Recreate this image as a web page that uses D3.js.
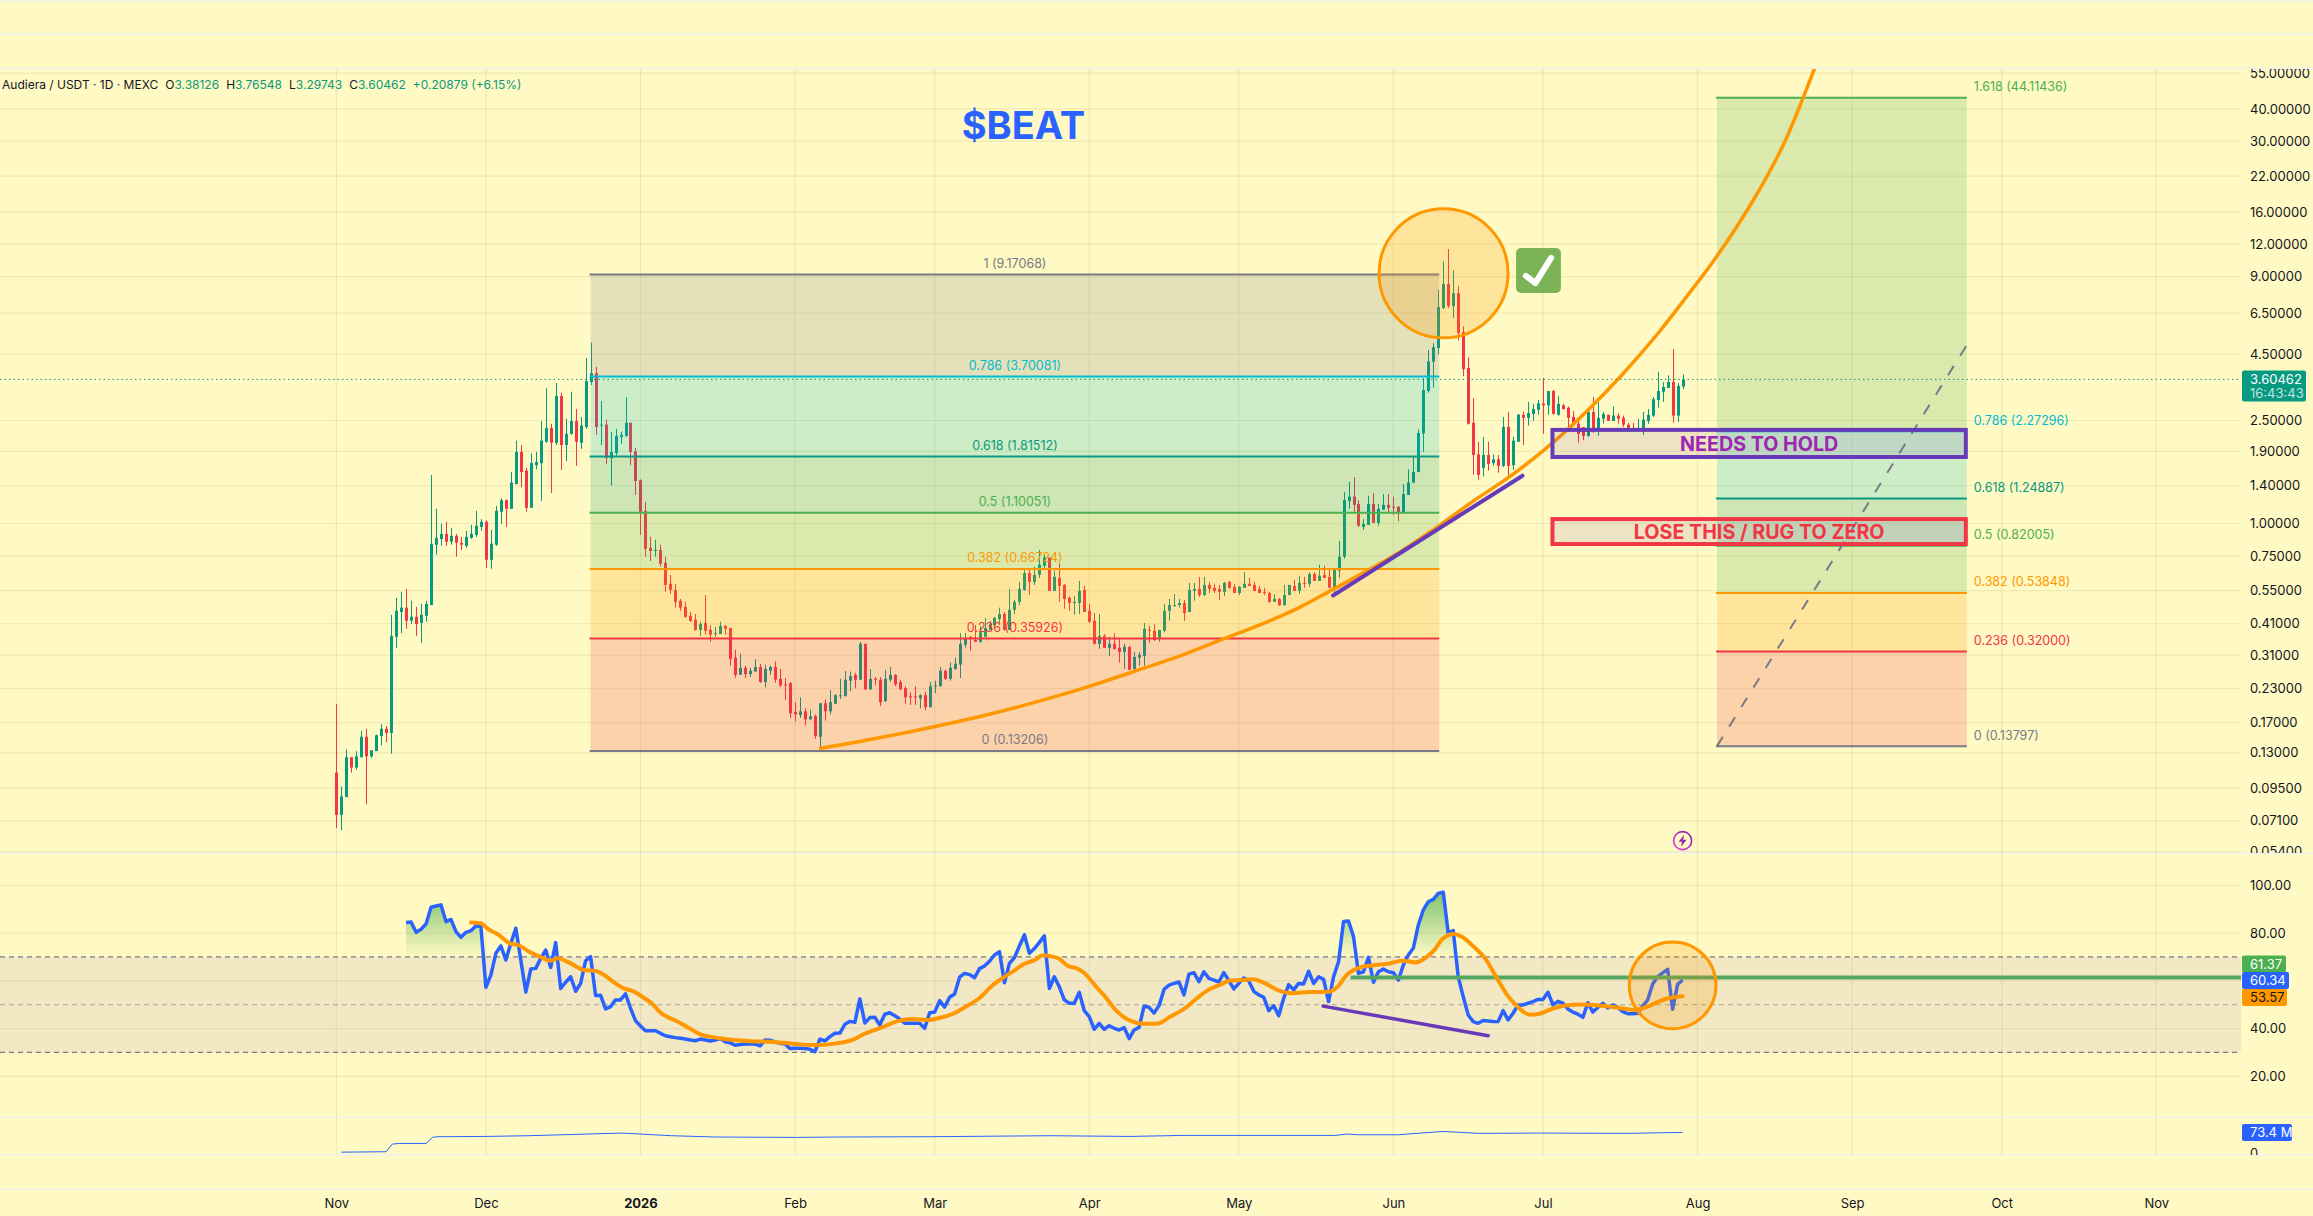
<!DOCTYPE html>
<html>
<head>
<meta charset="utf-8">
<title>Audiera / USDT</title>
<script src="https://cdn.jsdelivr.net/npm/d3@7/dist/d3.min.js"></script>
<style>
  html, body { margin: 0; padding: 0; background: #fff9c4; }
  svg { display: block; font-family: Inter, "Noto Sans", sans-serif; }
  .axis path { display: none; }
  .axis text { fill: #131722; font-size: 13px; font-family: Inter, "Noto Sans", sans-serif; }
</style>
</head>
<body>
<svg id="chart" width="2313" height="1216"></svg>
<script>
// Daily candles, first session 2025-11-01
const firstDay = Date.UTC(2025, 10, 1);
const opens = [
.109,.0748,.0877,.125,.114,.125,.150,.126,.132,.151,
.161,.155,.365,.455,.473,.421,.436,.413,.440,.484,
.828,.872,.912,.850,.896,.842,.820,.880,.904,.970,
1.015,.724,.828,1.11,1.23,1.14,1.42,1.89,1.60,1.15,
1.68,1.71,2.07,2.34,2.05,3.11,2.01,2.22,2.49,2.05,
2.36,3.52,3.81,2.39,2.41,1.79,1.87,2.16,2.18,2.45,
1.90,1.47,1.12,.805,.783,.791,.705,.585,.554,.503,
.476,.440,.425,.388,.413,.388,.374,.374,.402,.395,
.303,.260,.277,.262,.268,.279,.244,.270,.279,.251,
.239,.242,.187,.182,.188,.175,.180,.150,.202,.188,
.201,.215,.215,.247,.260,.249,.343,.229,.251,.249,
.206,.249,.260,.244,.231,.215,.215,.211,.217,.195,
.235,.235,.270,.251,.274,.285,.340,.365,.355,.349,
.365,.388,.405,.428,.447,.388,.464,.498,.554,.643,
.595,.633,.687,.738,.549,.616,.579,.516,.493,.493,
.554,.460,.421,.343,.368,.331,.343,.331,.319,.333,
.274,.303,.308,.388,.385,.362,.385,.460,.480,.484,
.493,.455,.549,.559,.529,.579,.564,.559,.544,.595,
.569,.539,.564,.585,.579,.559,.544,.539,.498,.511,
.484,.529,.574,.549,.590,.585,.638,.600,.633,.622,
.564,.657,.744,1.22,1.27,1.19,.970,.988,1.19,1.005,
1.13,1.18,1.16,1.16,1.10,1.29,1.44,1.58,2.23,3.25,
4.22,4.77,6.80,8.42,6.92,7.76,5.50,3.99,2.45,1.85,
1.64,1.84,1.71,1.77,1.67,2.36,1.68,2.07,2.63,2.56,
2.65,2.75,2.91,2.86,3.25,2.63,2.86,2.80,2.58,2.43,
2.36,2.18,2.70,2.30,2.54,2.63,2.49,2.61,2.56,2.41,
2.34,2.32,2.30,2.49,2.61,3.00,3.23,3.34,3.52,2.61,
3.38126];
const highs = [
.201,.0965,.134,.125,.132,.158,.161,.133,.153,.168,
.165,.444,.516,.544,.559,.503,.476,.489,.503,1.54,
1.14,.997,1.015,.962,.912,.888,.937,.988,1.12,1.04,
1.03,.945,1.17,1.25,1.24,1.58,2.09,2.01,1.64,1.87,
1.89,2.49,3.34,2.43,3.49,3.20,2.54,3.23,2.77,2.58,
4.36,5.00,4.03,2.97,2.52,2.26,2.32,2.26,3.08,2.45,
1.96,1.48,1.21,.888,.865,.828,.744,.633,.585,.511,
.498,.455,.447,.417,.529,.405,.399,.417,.405,.395,
.325,.314,.282,.277,.299,.287,.285,.282,.293,.274,
.253,.244,.204,.213,.193,.191,.183,.202,.209,.227,
.219,.251,.269,.268,.265,.349,.343,.274,.255,.255,
.272,.279,.262,.249,.235,.223,.235,.219,.223,.244,
.247,.279,.272,.290,.303,.377,.377,.368,.405,.402,
.432,.421,.436,.473,.455,.559,.507,.595,.662,.662,
.681,.791,.757,.738,.657,.699,.585,.524,.524,.600,
.574,.489,.451,.447,.374,.365,.377,.358,.343,.337,
.319,.319,.413,.402,.409,.388,.489,.511,.534,.511,
.507,.590,.590,.622,.622,.595,.585,.579,.595,.600,
.585,.574,.648,.616,.595,.574,.564,.544,.534,.516,
.579,.579,.605,.628,.622,.648,.648,.693,.687,.662,
.662,.857,1.32,1.45,1.51,1.23,1.04,1.28,1.31,1.19,
1.30,1.30,1.27,1.17,1.42,1.62,1.81,2.31,3.64,4.68,
4.97,7.98,10.3,11.5,9.53,8.26,5.79,4.39,3.05,2.07,
2.16,2.07,1.85,1.84,2.58,2.70,2.16,2.65,2.70,2.95,
2.90,3.00,3.65,3.25,3.28,3.11,2.90,2.83,2.72,2.56,
2.36,2.72,3.08,2.95,2.70,2.63,2.84,2.67,2.61,2.45,
2.45,2.54,2.70,2.77,3.08,3.86,3.52,3.74,4.72,3.49,
3.76548];
const lows = [
.0665,.0653,.0877,.109,.112,.125,.0822,.124,.132,.139,
.143,.129,.331,.377,.392,.409,.368,.346,.417,.484,
.757,.820,.820,.828,.744,.791,.805,.872,.888,.937,
.674,.668,.820,.997,.970,1.14,1.42,1.38,1.11,1.15,
1.62,1.22,2.05,1.31,2.01,1.61,1.74,2.20,1.67,1.94,
2.32,3.43,2.20,2.01,1.70,1.40,1.83,2.03,2.16,1.68,
1.29,.904,.744,.717,.744,.681,.544,.534,.473,.460,
.432,.417,.385,.368,.372,.349,.365,.374,.372,.282,
.253,.260,.253,.255,.268,.242,.233,.260,.242,.233,
.208,.177,.172,.177,.166,.175,.147,.1315,.173,.183,
.201,.210,.215,.225,.231,.249,.227,.227,.237,.197,
.204,.244,.235,.227,.201,.199,.199,.193,.190,.195,
.221,.235,.249,.247,.272,.253,.331,.322,.349,.346,
.365,.388,.399,.405,.385,.388,.447,.484,.549,.529,
.579,.616,.662,.549,.549,.498,.468,.460,.444,.447,
.455,.413,.340,.328,.331,.308,.325,.290,.274,.272,
.265,.282,.282,.346,.352,.349,.380,.421,.476,.473,
.421,.455,.503,.520,.524,.539,.539,.507,.524,.559,
.539,.529,.564,.574,.549,.539,.529,.493,.498,.480,
.480,.529,.549,.534,.564,.569,.600,.600,.616,.564,
.539,.616,.731,1.14,1.11,.970,.945,.988,1.005,.980,
1.13,1.10,1.08,1.02,1.09,1.29,1.43,1.58,1.89,3.20,
3.35,4.50,6.73,6.80,6.22,5.09,3.71,2.41,1.54,1.47,
1.52,1.60,1.67,1.57,1.65,1.50,1.61,2.07,2.01,2.39,
2.49,2.63,2.22,2.63,2.63,2.61,2.75,2.36,2.37,2.05,
2.10,2.16,2.24,2.18,2.43,2.49,2.49,2.43,2.36,2.30,
2.30,2.30,2.20,2.43,2.58,2.80,2.95,3.34,2.45,2.47,
3.29743];
const closes = [
.0748,.0882,.125,.114,.126,.150,.126,.133,.152,.161,
.155,.368,.460,.473,.421,.436,.409,.444,.489,.835,
.880,.912,.850,.896,.842,.828,.888,.912,.980,1.015,
.724,.835,1.12,1.23,1.14,1.44,1.89,1.58,1.15,1.71,
1.73,2.09,2.34,2.05,3.11,2.01,2.22,2.49,2.07,2.39,
3.55,3.81,2.36,2.41,1.79,1.89,2.18,2.20,2.45,1.89,
1.46,1.11,.798,.783,.791,.699,.579,.554,.498,.473,
.436,.421,.388,.409,.385,.372,.377,.402,.392,.300,
.260,.277,.262,.270,.279,.244,.274,.279,.249,.237,
.237,.185,.183,.188,.175,.180,.151,.202,.188,.204,
.217,.217,.249,.257,.249,.343,.229,.251,.249,.204,
.251,.260,.239,.229,.213,.213,.213,.217,.195,.235,
.237,.270,.251,.277,.287,.343,.362,.362,.349,.380,
.395,.409,.432,.447,.388,.464,.498,.559,.643,.595,
.633,.693,.738,.549,.622,.574,.511,.493,.498,.549,
.455,.417,.343,.368,.331,.343,.328,.319,.334,.272,
.305,.311,.392,.385,.355,.388,.460,.484,.484,.493,
.451,.554,.559,.529,.579,.559,.549,.544,.590,.564,
.539,.569,.585,.574,.549,.539,.539,.498,.511,.484,
.529,.579,.549,.590,.585,.638,.600,.628,.616,.564,
.662,.744,1.23,1.27,1.18,.980,.997,1.19,1.005,1.14,
1.18,1.15,1.15,1.10,1.30,1.44,1.58,2.24,3.28,4.23,
4.80,6.86,8.42,6.92,7.76,5.44,3.95,2.43,1.84,1.54,
1.84,1.70,1.77,1.67,2.36,1.67,2.09,2.63,2.56,2.67,
2.77,2.91,2.86,3.25,2.65,2.90,2.77,2.56,2.45,2.22,
2.18,2.70,2.30,2.56,2.65,2.49,2.61,2.54,2.41,2.34,
2.33,2.34,2.52,2.63,3.02,3.25,3.37,3.52,2.61,3.40,
3.60462];

// RSI(14), one value per session from session 14 onward
const rsiFirstSession = 14;
const rsiValues = [
84.4,84.6,80.3,81.6,83.8,90.8,91.3,91.8,84.8,85.7,
80.6,78.2,80.3,81.0,83.0,82.7,57.3,62.4,71.5,74.6,
68.7,75.7,82.0,68.7,55.3,64.9,65.2,69.4,72.9,65.6,
76.0,56.8,59.4,61.7,55.6,58.9,68.4,70.1,53.8,53.9,
48.2,49.2,52.0,52.0,54.5,48.5,43.3,41.1,39.1,39.1,
39.1,38.0,37.0,36.6,36.2,35.9,35.6,35.2,34.9,35.6,
35.2,34.8,35.2,35.9,34.5,34.0,33.0,33.3,33.5,33.5,
33.5,32.8,35.2,35.1,34.4,33.8,33.5,31.6,31.7,31.7,
31.6,31.3,30.3,35.6,34.8,36.6,38.0,38.1,41.8,43.0,
42.6,52.4,42.3,44.6,44.7,41.5,46.0,46.6,45.4,44.0,
42.2,42.2,42.2,42.2,40.1,46.6,46.9,51.7,49.0,53.1,
54.5,61.5,63.1,62.6,61.3,65.1,66.2,68.2,70.8,72.2,
59.2,67.3,69.7,74.6,79.3,71.5,73.5,76.1,78.8,56.8,
61.7,57.5,52.0,50.6,50.6,55.2,47.5,45.0,39.7,42.2,
39.7,41.2,40.1,39.4,40.4,35.8,39.4,40.5,49.4,48.9,
46.5,49.6,56.4,58.2,58.9,59.5,54.1,62.8,63.4,59.6,
63.8,61.0,60.3,59.5,63.4,60.1,56.6,58.9,61.2,59.9,
55.6,54.1,53.1,47.5,49.6,45.4,52.7,58.4,56.2,58.9,
58.7,64.0,58.9,61.7,60.6,51.3,61.7,68.0,84.8,85.0,
78.5,63.1,63.8,69.8,59.4,63.8,64.9,63.8,63.4,60.3,
66.6,70.8,73.7,83.4,89.7,93.1,94.1,96.6,97.1,79.9,
81.0,61.7,53.4,45.7,42.9,42.2,43.4,43.2,43.0,42.9,
47.5,43.6,46.4,49.9,49.9,50.6,51.3,52.2,52.2,55.2,
49.9,51.4,50.6,48.2,46.9,46.0,44.7,50.8,46.9,48.8,
50.6,48.6,49.9,48.9,47.1,46.2,46.2,46.4,49.4,52.0,
58.7,61.7,63.3,64.8,48.1,58.5,60.34];

// Smoothing line drawn on the RSI, read at its bends
const rsiMaDays = [27,28.9,30.5,32.5,34.8,36.6,38.4,40.8,43,44.4,46.6,49.7,52,53.8,56,57.8,59.6,61.8,63.4,65,68.5,70.8,73,75.2,79.7,83.3,87.8,92.3,96.3,100.3,103.9,105.7,109.3,112.8,115.5,118.7,120.9,123.6,126.3,129,131.6,133.9,136.1,137.9,140.1,141.7,143.1,144.9,146.7,148.5,150.1,152.1,154.3,156.1,159.2,161.9,164.6,167.3,170,172.6,174.9,177.1,179.3,181.6,183.8,186.1,188.7,191.9,195,199,200.8,202.6,204,205.8,208.4,211.1,213.8,216.5,218.3,220.1,221.9,224.1,225.9,228.1,230.4,232.6,234.8,237.1,239.3,241.1,243.8,246.5,249.6,253.2,256.8,260.3,263,265.3,267.1,270];
const rsiMaValues = [84.4,84.1,81.6,79.3,75.7,74.9,72.5,70.1,68.4,69.4,67.7,64.5,64.1,62.3,58.9,56.7,55.6,52.7,50.3,46.7,42.9,40.1,37.6,36.5,35.2,34.7,34.4,33.5,33.1,33.8,35.6,37.6,40.4,43.2,44,43.6,44.4,46.1,49.2,52.8,58.1,61.5,64.5,67,68.7,70.7,70.4,69.3,66.3,65.2,63.1,58.2,53.1,48.2,43.3,42,42,45,48.2,52.7,56.2,58.2,60.1,60.3,60.6,59.1,56.2,54.8,55.3,55.4,57.5,62.4,64.5,65.9,66.6,67.2,68.4,67.7,69.4,72.6,77.6,79.6,78.2,74.3,69.4,61.7,54.1,48.8,45.8,46.1,48.2,49.7,50.1,49.7,48.8,47.8,49.2,51.4,52.7,53.57];

// Lower pane line, in millions
const volDays = [1,10,11.25,12.6,18,19.3,20.2,30,38.5,47.5,57.3,67.2,76,92.3,101,119,143,159.2,170,200.4,202.6,204.9,212.9,221.9,225,229,241.5,259,270];
const volValues = [3,4.5,32,34,34,55.6,58,59,61.6,66,71,61.6,57,55.6,57,58,61.6,59,62.8,62.8,67.7,65,65,76.7,74,70,71,70,73.4];

// Axis ticks
const priceTicks = [55,40,30,22,16,12,9,6.5,4.5,2.5,1.9,1.4,1,0.75,0.55,0.41,0.31,0.23,0.17,0.13,0.095,0.071,0.054];
const rsiAxisTicks = [100,80,40,20];
const rsiGridTicks = [100,80,60,40,20];
const rsiBandLevels = [70,50,30];

// Retracement tools
const fibColors = { 1: "#787b86", 0.786: "#00bcd4", 0.618: "#089981", 0.5: "#4caf50", 0.382: "#ff9800", 0.236: "#f23645", 0: "#787b86", 1.618: "#4caf50" };
const leftFibLevels = [[1,9.17068],[0.786,3.70081],[0.618,1.81512],[0.5,1.10051],[0.382,0.66724],[0.236,0.35926],[0,0.13206]];
const rightFibLevels = [[1.618,44.11436],[0.786,2.27296],[0.618,1.24887],[0.5,0.82005],[0.382,0.53848],[0.236,0.32],[0,0.13797]];
const leftFibDays = [51, 221.2];
const rightFibDays = [276.9, 327];

// Hand-drawn parabola through the lows
const curveDays = [96.8,108.4,119.9,131.4,142.9,151.3,160.2,169.8,177.4,185.1,192.8,199.7,207.4,213.4,221.4,228,235.4,243.8,251.4,258.1,264.8,270.8,276.8,284.2,290.4,296.4,299];
const curvePrices = [.135,.148,.164,.184,.211,.236,.269,.311,.355,.405,.470,.554,.668,.778,.988,1.22,1.52,2.04,2.79,3.80,5.35,7.52,10.73,17.78,29.6,56.9,77];

const dayMs = 864e5;
const dateOf = d => new Date(firstDay + d * dayMs);

// Layout
const paneRight = 2241, paneTop = 69, priceBottom = 853, rsiBottom = 1117, volBottom = 1155, timeTop = 1189;

const x = d3.scaleUtc()
  .domain([new Date(Date.UTC(2025, 10, 1)), new Date(Date.UTC(2026, 10, 1))])
  .range([336.3, 2156.3]);
const xd = d => x(dateOf(d));
const yPrice = d3.scaleLog().domain([1, Math.E]).range([523.5, 411.1]);
const yRsi = d3.scaleLinear().domain([100, 20]).range([885.3, 1076.3]);
const yVol = d3.scaleLinear().domain([0, 73.4]).range([1153, 1132.4]);

const svg = d3.select("#chart");
const defs = svg.append("defs");

function clip(id, x0, y0, w, h) {
  defs.append("clipPath").attr("id", id).append("rect").attr("x", x0).attr("y", y0).attr("width", w).attr("height", h);
}
clip("pricePane", 0, paneTop, paneRight, priceBottom - paneTop);
clip("rsiHot", 0, yRsi(100) - 20, paneRight, yRsi(70) - yRsi(100) + 20);
clip("priceAxisLocal", 0, paneTop, 72, priceBottom - paneTop);
clip("volAxisLocal", 0, rsiBottom, 72, volBottom - rsiBottom);

const hot = defs.append("linearGradient").attr("id", "hotFill").attr("gradientUnits", "userSpaceOnUse")
  .attr("x1", 0).attr("x2", 0).attr("y1", yRsi(100)).attr("y2", yRsi(70));
hot.append("stop").attr("offset", 0).attr("stop-color", "#4caf50").attr("stop-opacity", 0.8);
hot.append("stop").attr("offset", 1).attr("stop-color", "#4caf50").attr("stop-opacity", 0);

const bolt = defs.append("linearGradient").attr("id", "boltRing").attr("x1", 0).attr("x2", 1).attr("y1", 1).attr("y2", 0);
bolt.append("stop").attr("offset", 0).attr("stop-color", "#e040fb");
bolt.append("stop").attr("offset", 1).attr("stop-color", "#7b1fa2");

// Pane separators
svg.append("g").selectAll("line").data([1, 34, 68.5, priceBottom, rsiBottom, volBottom, timeTop]).join("line")
  .attr("x1", 0).attr("x2", 2313).attr("y1", d => d).attr("y2", d => d)
  .attr("stroke", "#eef0ef").attr("stroke-width", 1.5);

// Grid
const gridColor = "rgba(110,100,50,0.10)";
const monthTicks = d3.utcMonth.range(new Date(Date.UTC(2025, 10, 1)), new Date(Date.UTC(2026, 10, 2)));
const grid = svg.append("g");
grid.selectAll(".v").data(monthTicks).join("line").attr("class", "v")
  .attr("x1", d => x(d)).attr("x2", d => x(d)).attr("y1", paneTop).attr("y2", volBottom)
  .attr("stroke", gridColor).attr("stroke-width", 1.2);
grid.selectAll(".hp").data(priceTicks).join("line").attr("class", "hp")
  .attr("x1", 0).attr("x2", paneRight).attr("y1", d => yPrice(d)).attr("y2", d => yPrice(d))
  .attr("stroke", gridColor).attr("stroke-width", 1.2);
grid.selectAll(".hr").data(rsiGridTicks).join("line").attr("class", "hr")
  .attr("x1", 0).attr("x2", paneRight).attr("y1", d => yRsi(d)).attr("y2", d => yRsi(d))
  .attr("stroke", gridColor).attr("stroke-width", 1.2);

// Candles
const candles = opens.map((o, i) => ({ i, o, h: highs[i], l: lows[i], c: closes[i] }));
const upColor = "#089981", downColor = "#f23645";
const colorOf = d => d.c >= d.o ? upColor : downColor;
const price = svg.append("g").attr("clip-path", "url(#pricePane)");
const candle = price.append("g").selectAll("g").data(candles).join("g");
candle.append("line")
  .attr("x1", d => Math.round(xd(d.i)) + 0.5).attr("x2", d => Math.round(xd(d.i)) + 0.5)
  .attr("y1", d => yPrice(d.h)).attr("y2", d => yPrice(d.l))
  .attr("stroke", colorOf).attr("stroke-width", 1);
candle.append("rect")
  .attr("x", d => Math.round(xd(d.i)) - 1).attr("width", 3)
  .attr("y", d => yPrice(Math.max(d.o, d.c)))
  .attr("height", d => Math.max(1, Math.abs(yPrice(d.o) - yPrice(d.c))))
  .attr("fill", colorOf);

// Last-price line
const lastClose = closes[closes.length - 1];
svg.append("line").attr("x1", 0).attr("x2", paneRight).attr("y1", yPrice(lastClose)).attr("y2", yPrice(lastClose))
  .attr("stroke", upColor).attr("stroke-width", 1).attr("stroke-dasharray", "1.5 3");

// Retracement bands, level lines and labels
function drawFib(levels, days, labelled) {
  const g = price.append("g");
  const [d0, d1] = days;
  const bands = d3.pairs(levels);
  g.selectAll("rect").data(bands).join("rect")
    .attr("x", xd(d0)).attr("width", xd(d1) - xd(d0))
    .attr("y", d => yPrice(d[0][1])).attr("height", d => yPrice(d[1][1]) - yPrice(d[0][1]))
    .attr("fill", d => fibColors[d[0][0]]).attr("fill-opacity", 0.2);
  g.selectAll("line").data(levels).join("line")
    .attr("x1", xd(d0) - 1).attr("x2", xd(d1)).attr("y1", d => yPrice(d[1])).attr("y2", d => yPrice(d[1]))
    .attr("stroke", d => fibColors[d[0]]).attr("stroke-width", 2);
  g.selectAll("text").data(levels).join("text")
    .attr("x", labelled === "center" ? (xd(d0) + xd(d1)) / 2 : xd(d1) + 7)
    .attr("y", d => yPrice(d[1]) - 11)
    .attr("dy", "0.35em")
    .attr("text-anchor", labelled === "center" ? "middle" : "start")
    .attr("font-size", 12.5)
    .attr("fill", d => fibColors[d[0]])
    .text(d => `${d[0]} (${d[1].toFixed(5)})`);
}
drawFib(leftFibLevels, leftFibDays, "center");
drawFib(rightFibLevels, rightFibDays, "side");

// Dashed diagonal of the right-hand tool
svg.append("line")
  .attr("x1", xd(rightFibDays[0])).attr("y1", yPrice(0.13797))
  .attr("x2", xd(rightFibDays[1])).attr("y2", yPrice(4.894))
  .attr("stroke", "#787b86").attr("stroke-width", 2).attr("stroke-dasharray", "11 12");

// Parabolic curve and support line
const curveLine = d3.line().x((d, i) => xd(curveDays[i])).y((d, i) => yPrice(curvePrices[i])).curve(d3.curveCatmullRom.alpha(0.5));
price.append("path").attr("d", curveLine(curveDays)).attr("fill", "none")
  .attr("stroke", "#ff9800").attr("stroke-width", 3.5);
const purple = "#673ab7";
svg.append("line")
  .attr("x1", xd(199.9)).attr("y1", yPrice(0.527)).attr("x2", xd(237.9)).attr("y2", yPrice(1.53))
  .attr("stroke", purple).attr("stroke-width", 4).attr("stroke-linecap", "round");

// Zone boxes
const zones = [
  { text: "NEEDS TO HOLD", hi: 2.30, lo: 1.807, stroke: purple, color: "#9c27b0" },
  { text: "LOSE THIS / RUG TO ZERO", hi: 1.04, lo: 0.833, stroke: "#f23645", color: "#f23645" }
];
const zoneDays = [243.9, 326.8];
const zoneG = svg.append("g").selectAll("g").data(zones).join("g");
zoneG.append("rect")
  .attr("x", xd(zoneDays[0])).attr("width", xd(zoneDays[1]) - xd(zoneDays[0]))
  .attr("y", d => yPrice(d.hi)).attr("height", d => yPrice(d.lo) - yPrice(d.hi))
  .attr("fill", "rgba(103,58,183,0.11)").attr("stroke", d => d.stroke).attr("stroke-width", 4);
zoneG.append("text")
  .attr("x", (xd(zoneDays[0]) + xd(zoneDays[1])) / 2)
  .attr("y", d => (yPrice(d.hi) + yPrice(d.lo)) / 2)
  .attr("dy", "0.36em").attr("text-anchor", "middle")
  .attr("font-size", 19.7).attr("font-weight", 700).attr("fill", d => d.color)
  .text(d => d.text);

// Circle callouts, radius taken from a point on the rim
function callout(cd, cy, edgeDay) {
  svg.append("circle").attr("cx", xd(cd)).attr("cy", cy).attr("r", xd(edgeDay) - xd(cd))
    .attr("fill", "rgba(255,152,0,0.2)").attr("stroke", "#ff9800").attr("stroke-width", 3);
}
callout(222.06, yPrice(9.26), 235);

// Check mark badge
const badgeX0 = xd(236.6), badgeX1 = xd(245.6), badgeY0 = yPrice(11.6), badgeY1 = yPrice(7.77);
const bw = badgeX1 - badgeX0, bh = badgeY1 - badgeY0;
const badge = svg.append("g");
badge.append("rect").attr("x", badgeX0).attr("y", badgeY0).attr("width", bw).attr("height", bh)
  .attr("rx", 5).attr("fill", "#7cb356");
badge.append("path")
  .attr("d", d3.line()([
    [badgeX0 + bw * 0.22, badgeY0 + bh * 0.62],
    [badgeX0 + bw * 0.43, badgeY0 + bh * 0.78],
    [badgeX0 + bw * 0.78, badgeY0 + bh * 0.22]
  ]))
  .attr("fill", "none").attr("stroke", "#fff").attr("stroke-width", 6)
  .attr("stroke-linecap", "round").attr("stroke-linejoin", "round");

// Title and symbol line
svg.append("text").attr("x", (xd(126) + xd(150)) / 2 - 1).attr("y", 139)
  .attr("text-anchor", "middle").attr("font-size", 38).attr("font-weight", 700).attr("fill", "#2962ff")
  .text("$BEAT");

const legend = svg.append("text").attr("x", 2).attr("y", 85).attr("dy", "0.35em").attr("font-size", 12);
const teal = "#089981", ink = "#131722";
[
  ["Audiera / USDT · 1D · MEXC", ink, 0],
  ["O", ink, 7], ["3.38126", teal, 0],
  ["H", ink, 7], ["3.76548", teal, 0],
  ["L", ink, 7], ["3.29743", teal, 0],
  ["C", ink, 7], ["3.60462", teal, 0],
  ["+0.20879 (+6.15%)", teal, 7]
].forEach(([t, c, dx]) => legend.append("tspan").attr("dx", dx).attr("fill", c).text(t));

// Alert marker under the last candle
const boltX = xd(270), boltY = yPrice(0.0595);
const boltG = svg.append("g").attr("transform", `translate(${boltX},${boltY})`);
boltG.append("circle").attr("r", 9).attr("fill", "#fff9c4").attr("stroke", "url(#boltRing)").attr("stroke-width", 1.6);
boltG.append("path").attr("d", "M1.5,-6 L-4,1 L-0.6,1 L-1.5,6 L4,-1 L0.6,-1 Z").attr("fill", "#9c27b0");

// RSI pane
const rsi = svg.append("g");
rsi.append("rect").attr("x", 0).attr("width", paneRight)
  .attr("y", yRsi(rsiBandLevels[0])).attr("height", yRsi(rsiBandLevels[2]) - yRsi(rsiBandLevels[0]))
  .attr("fill", "#7e57c2").attr("fill-opacity", 0.1);
rsi.selectAll(".band").data(rsiBandLevels).join("line").attr("class", "band")
  .attr("x1", 0).attr("x2", paneRight).attr("y1", d => yRsi(d)).attr("y2", d => yRsi(d))
  .attr("stroke", "#787b86").attr("stroke-width", 1.2).attr("stroke-dasharray", "5 4")
  .attr("stroke-opacity", d => d === 50 ? 0.5 : 1);

const rsiSeries = rsiValues.map((v, i) => [i + rsiFirstSession, v]);
rsi.append("path")
  .attr("clip-path", "url(#rsiHot)")
  .attr("d", d3.area().x(d => xd(d[0])).y0(yRsi(40)).y1(d => yRsi(d[1]))(rsiSeries))
  .attr("fill", "url(#hotFill)");
rsi.append("path")
  .attr("d", d3.line().x(d => xd(d[0])).y(d => yRsi(d[1]))(rsiSeries))
  .attr("fill", "none").attr("stroke", "#2962ff").attr("stroke-width", 3.5).attr("stroke-linejoin", "round");

rsi.append("line").attr("x1", xd(203.4)).attr("x2", paneRight).attr("y1", yRsi(61.37)).attr("y2", yRsi(61.37))
  .attr("stroke", "#55a661").attr("stroke-width", 4);

rsi.append("path")
  .attr("d", d3.line().x((d, i) => xd(rsiMaDays[i])).y((d, i) => yRsi(rsiMaValues[i])).curve(d3.curveMonotoneX)(rsiMaDays))
  .attr("fill", "none").attr("stroke", "#ff9800").attr("stroke-width", 4).attr("stroke-linecap", "round");

rsi.append("line")
  .attr("x1", xd(197.9)).attr("y1", yRsi(49.4)).attr("x2", xd(231)).attr("y2", yRsi(37))
  .attr("stroke", purple).attr("stroke-width", 3.5).attr("stroke-linecap", "round");
callout(268, yRsi(58.1), 276.7);

// Lower pane line
svg.append("path")
  .attr("d", d3.line().x((d, i) => xd(volDays[i])).y((d, i) => yVol(volValues[i]))(volDays))
  .attr("fill", "none").attr("stroke", "#2962ff").attr("stroke-width", 1);

// Axes
const axisPad = 9;
svg.append("g").attr("class", "axis").attr("transform", `translate(${paneRight},0)`)
  .append("g").attr("clip-path", "url(#priceAxisLocal)")
  .call(d3.axisRight(yPrice).tickValues(priceTicks).tickFormat(d => d.toFixed(5)).tickSize(0).tickPadding(axisPad));

svg.append("g").attr("class", "axis").attr("transform", `translate(${paneRight},0)`)
  .call(d3.axisRight(yRsi).tickValues(rsiAxisTicks).tickFormat(d => d.toFixed(2)).tickSize(0).tickPadding(axisPad));

svg.append("g").attr("class", "axis").attr("transform", `translate(${paneRight},0)`)
  .append("g").attr("clip-path", "url(#volAxisLocal)")
  .call(d3.axisRight(yVol).tickValues([0]).tickFormat(d3.format("d")).tickSize(0).tickPadding(axisPad));

const timeAxis = svg.append("g").attr("class", "axis").attr("transform", `translate(0,${timeTop})`)
  .call(d3.axisBottom(x).tickValues(monthTicks)
    .tickFormat(d => d.getUTCMonth() === 0 ? String(d.getUTCFullYear()) : d3.utcFormat("%b")(d))
    .tickSize(0).tickPadding(10));
timeAxis.selectAll("text").attr("font-weight", d => d.getUTCMonth() === 0 ? 700 : 400);

// Value tags on the right edge
const tags = [
  { yv: 964, text: "61.37", w: 44, fill: "#4caf50", ink: "#fff" },
  { yv: 980.5, text: "60.34", w: 47, fill: "#2962ff", ink: "#fff" },
  { yv: 997.5, text: "53.57", w: 45, fill: "#ff9800", ink: "#131722" },
  { yv: 1132.5, text: "73.4 M", w: 50, fill: "#2962ff", ink: "#fff" }
];
const tagG = svg.append("g").selectAll("g").data(tags).join("g");
tagG.append("rect").attr("x", paneRight + 1).attr("y", d => d.yv - 8.5).attr("width", d => d.w).attr("height", 17)
  .attr("rx", 2).attr("fill", d => d.fill);
tagG.append("text").attr("x", paneRight + 9).attr("y", d => d.yv).attr("dy", "0.36em")
  .attr("font-size", 13).attr("fill", d => d.ink).text(d => d.text);

const lastTagY = yPrice(lastClose);
svg.append("rect").attr("x", paneRight + 1).attr("y", lastTagY - 9).attr("width", 64).attr("height", 31)
  .attr("rx", 2).attr("fill", upColor);
svg.append("text").attr("x", paneRight + 9).attr("y", lastTagY).attr("dy", "0.36em")
  .attr("font-size", 13).attr("fill", "#fff").text(lastClose.toFixed(5));
svg.append("text").attr("x", paneRight + 9).attr("y", lastTagY + 14).attr("dy", "0.36em")
  .attr("font-size", 13).attr("fill", "#fff").attr("fill-opacity", 0.75).text("16:43:43");
</script>
</body>
</html>
